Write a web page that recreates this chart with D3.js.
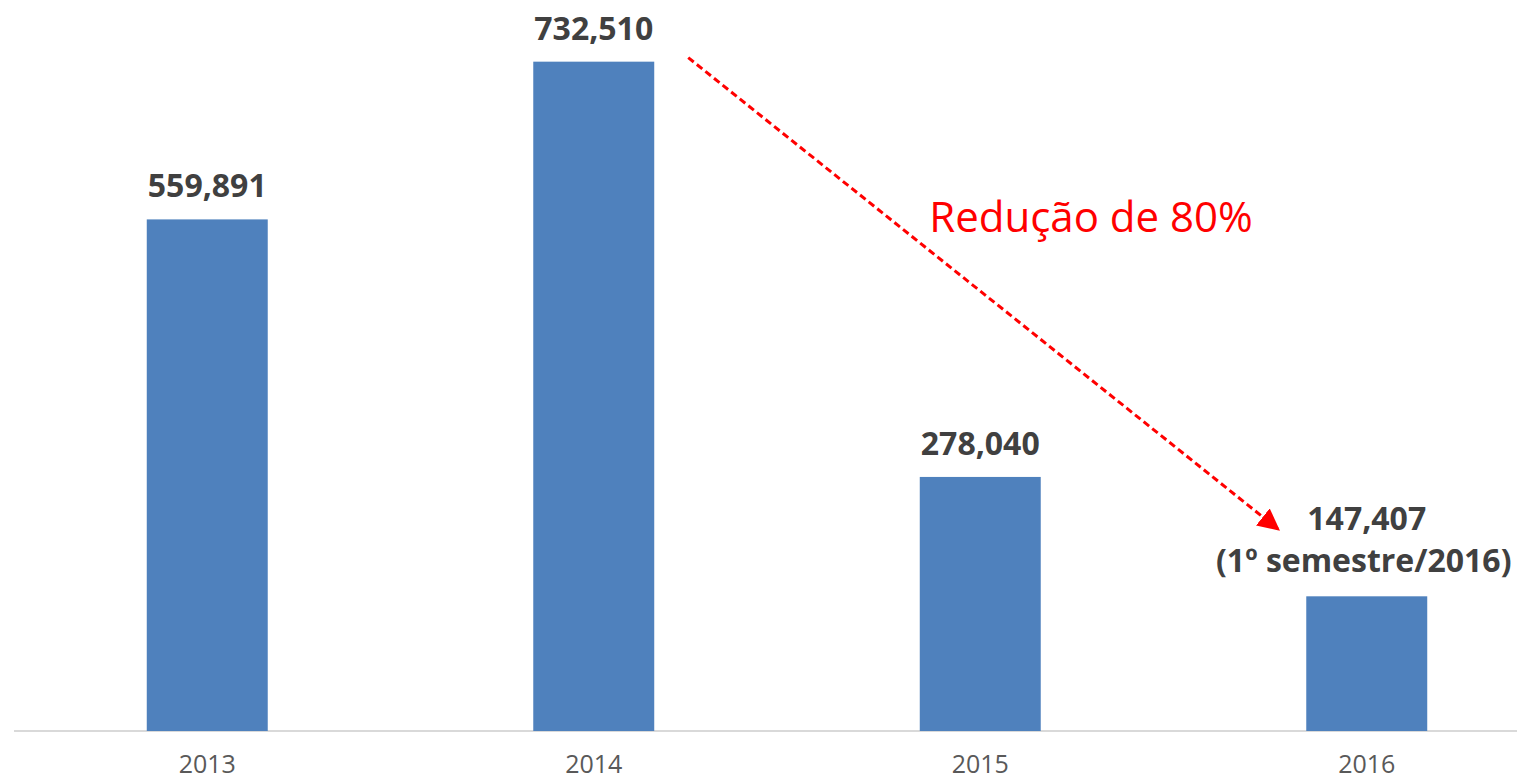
<!DOCTYPE html>
<html><head><meta charset="utf-8">
<script src="https://cdn.jsdelivr.net/npm/d3@7"></script>
<style>body{margin:0;background:#fff;}svg{display:block;}</style>
</head><body>
<svg id="c" width="1517" height="782"></svg>
<script>
const categories = ["2013", "2014", "2015", "2016"];
const values = [559891, 732510, 278040, 147407];
const valueLabels = ["559,891", "732,510", "278,040", "147,407"];
const extraLabels = ["", "", "", "(1º semestre/2016)"];
const annotationText = "Redução de 80%";

const svg = d3.select("#c");
const font = "'Open Sans', 'Noto Sans', sans-serif";

const x = d3.scaleBand().domain(categories).range([14, 1560]).paddingInner(0.687).paddingOuter(0.3435);
const y = d3.scaleLinear().domain([0, 800000]).range([731, 0]);

// axis line
const xAxis = d3.axisBottom(x).tickSize(0).tickPadding(24);
const gx = svg.append("g").attr("transform", `translate(0,${y(0)})`).call(xAxis);
gx.select(".domain").attr("stroke", "#d9d9d9").attr("stroke-width", 2).attr("d", `M14,0H1517`);
gx.selectAll("text").attr("font-family", font).attr("font-size", 25).attr("fill", "#595959");

// bars
svg.append("g").selectAll("rect").data(values).join("rect")
  .attr("x", (d, i) => x(categories[i]))
  .attr("width", x.bandwidth())
  .attr("y", d => y(d))
  .attr("height", d => y(0) - y(d))
  .attr("fill", "#4f81bd");

// value labels
const lbl = svg.append("g").attr("font-family", font).attr("font-weight", "bold").attr("fill", "#404040").attr("text-anchor", "middle");
values.forEach((v, i) => {
  const cx = x(categories[i]) + x.bandwidth() / 2;
  if (extraLabels[i]) {
    lbl.append("text").attr("x", cx).attr("y", y(v) - 66).attr("font-size", 32).text(valueLabels[i]);
    lbl.append("text").attr("x", cx - 3).attr("y", y(v) - 24).attr("font-size", 32).text(extraLabels[i]);
  } else {
    lbl.append("text").attr("x", cx).attr("y", y(v) - 22).attr("font-size", 32).text(valueLabels[i]);
  }
});

// arrow annotation
svg.append("defs").append("marker").attr("id", "ah").attr("viewBox", "0 0 10 10")
  .attr("refX", 9).attr("refY", 5).attr("markerWidth", 22).attr("markerHeight", 22)
  .attr("markerUnits", "userSpaceOnUse").attr("orient", "auto")
  .append("path").attr("d", "M0,0L10,5L0,10z").attr("fill", "#ff0000");

const x1 = x("2014") + x.bandwidth() + 34, y1 = y(values[1]) - 4;
const x2 = x("2016") - 28, y2 = y(values[3]) - 67;
svg.append("line").attr("x1", x1).attr("y1", y1).attr("x2", x2).attr("y2", y2)
  .attr("stroke", "#ff0000").attr("stroke-width", 3).attr("stroke-dasharray", "7,4")
  .attr("marker-end", "url(#ah)");

svg.append("text").attr("x", 1091).attr("y", 232).attr("text-anchor", "middle")
  .attr("font-family", font).attr("font-size", 42).attr("fill", "#ff0000").text(annotationText);
</script>
</body></html>
